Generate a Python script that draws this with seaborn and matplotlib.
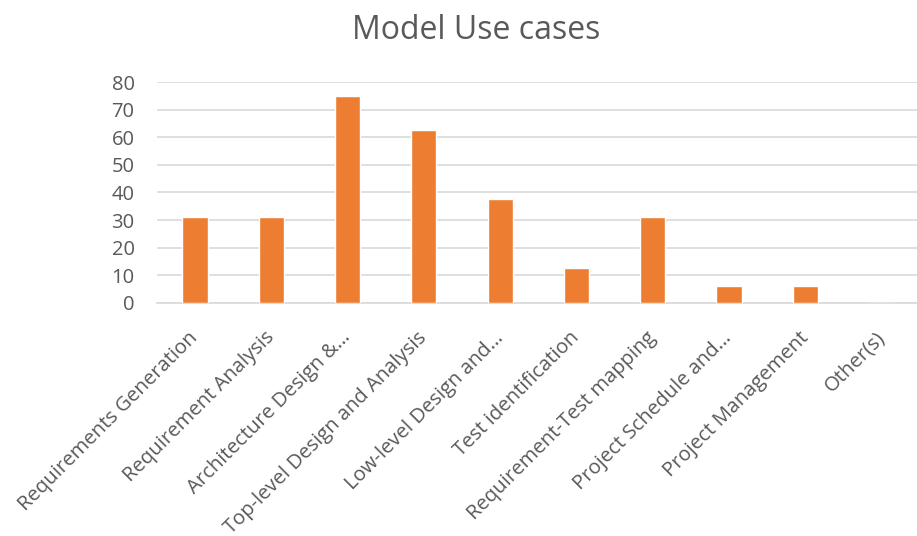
import matplotlib
matplotlib.use("Agg")
import matplotlib.pyplot as plt
import seaborn as sns
import pandas as pd

categories = [
    "Requirements Generation",
    "Requirement Analysis",
    "Architecture Design &…",
    "Top-level Design and Analysis",
    "Low-level Design and…",
    "Test identification",
    "Requirement-Test mapping",
    "Project Schedule and…",
    "Project Management",
    "Other(s)",
]
values = [31.25, 31.25, 75, 62.5, 37.5, 12.5, 31.25, 6.25, 6.25, 0]
yticks = [0, 10, 20, 30, 40, 50, 60, 70, 80]

sns.set_theme(style="white")
plt.rcParams["font.family"] = ["Open Sans", "DejaVu Sans"]

TEXT = "#595959"
df = pd.DataFrame({"cat": categories, "val": values})

fig = plt.figure(figsize=(9.17, 5.36), dpi=100)
ax = fig.add_axes([0.171, 0.435, 0.832, 0.412])
sns.barplot(data=df, x="cat", y="val", color="#ED7D31", saturation=1,
            width=0.33, ax=ax, zorder=3)

ax.set_ylim(0, 80)
ax.set_yticks(yticks)
ax.set_yticklabels([str(t) for t in yticks])
ax.yaxis.grid(True, color="#D9D9D9", linewidth=1.2, zorder=0)
ax.set_axisbelow(True)
for s in ["top", "right", "left"]:
    ax.spines[s].set_visible(False)
ax.spines["bottom"].set_color("#D9D9D9")
ax.spines["bottom"].set_linewidth(1.2)
ax.set_xlabel("")
ax.set_ylabel("")
ax.tick_params(axis="both", length=0, colors=TEXT)
ax.tick_params(axis="y", pad=16, labelsize=14.5)
ax.tick_params(axis="x", pad=23, labelsize=14.6)
plt.setp(ax.get_xticklabels(), rotation=45, ha="right", va="center",
         rotation_mode="anchor")

fig.text(0.519, 0.944, "Model Use cases", ha="center", va="center",
         fontsize=23, color=TEXT)

fig.savefig("out.png", dpi=100, facecolor="white")
